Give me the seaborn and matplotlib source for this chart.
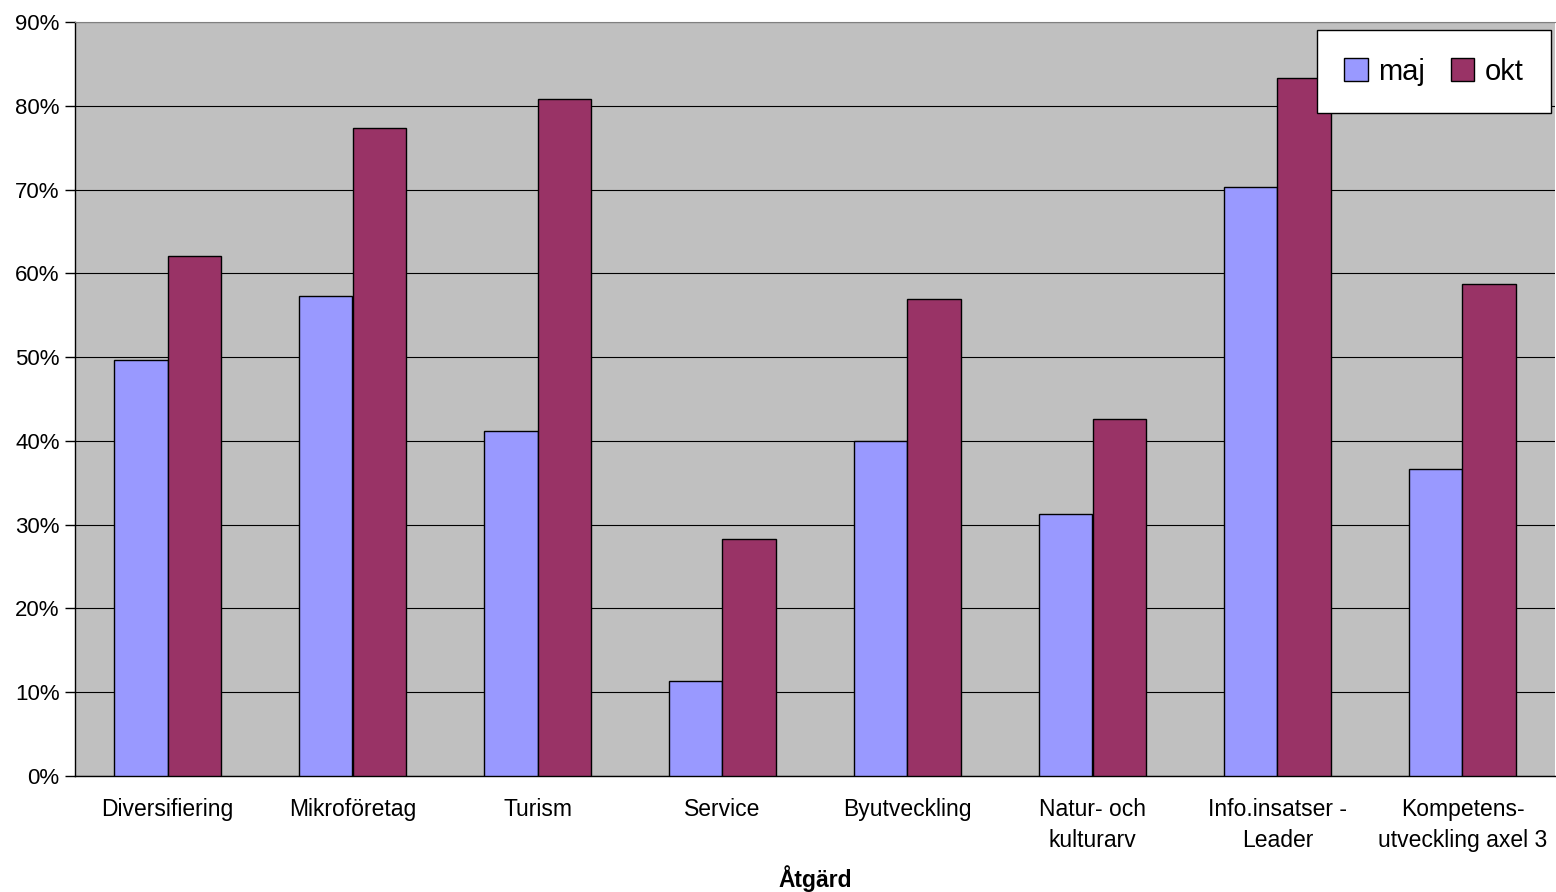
import numpy as np
import pandas as pd
import matplotlib
matplotlib.use("Agg")
import matplotlib.pyplot as plt
import seaborn as sns
from matplotlib.ticker import PercentFormatter, FixedLocator

categories = ["Diversifiering", "Mikroföretag", "Turism", "Service", "Byutveckling",
              "Natur- och\nkulturarv", "Info.insatser -\nLeader", "Kompetens-\nutveckling axel 3"]
maj = [49.6, 57.3, 41.2, 11.3, 40.0, 31.3, 70.3, 36.6]
okt = [62.1, 77.4, 80.8, 28.3, 56.9, 42.6, 83.3, 58.7]

df = pd.DataFrame({
    "Åtgärd": categories * 2,
    "value": maj + okt,
    "period": ["maj"] * len(maj) + ["okt"] * len(okt),
})

sns.set_style("white")
plt.rcParams["font.family"] = ["Liberation Sans", "DejaVu Sans"]
plt.rcParams["text.color"] = "black"
plt.rcParams["xtick.color"] = "black"
plt.rcParams["ytick.color"] = "black"
plt.rcParams["axes.labelcolor"] = "black"

fig = plt.figure(figsize=(15.56, 8.92), dpi=100)
ax = fig.add_axes([75 / 1556, 1 - 776 / 892, (1555 - 75) / 1556, (776 - 22) / 892])
ax.set_facecolor("#C0C0C0")

sns.barplot(data=df, x="Åtgärd", y="value", hue="period",
            palette={"maj": "#9999FF", "okt": "#993366"}, saturation=1,
            width=0.58, gap=0, edgecolor="black", linewidth=1, ax=ax, zorder=3)

ax.set_ylim(0, 90)
ax.set_xlim(-0.5, 7.5)
ax.yaxis.set_major_locator(FixedLocator(np.arange(0, 91, 10)))
ax.yaxis.set_major_formatter(PercentFormatter(decimals=0))
ax.grid(axis="y", color="black", linewidth=0.8, zorder=0)
ax.set_axisbelow(True)

ax.xaxis.set_minor_locator(FixedLocator(np.arange(-0.5, 8, 1)))
ax.tick_params(axis="x", which="major", length=0, labelsize=16.5, pad=16)
ax.tick_params(axis="x", which="minor", length=7, width=1, color="black", direction="out")
ax.tick_params(axis="y", length=7, width=1, color="black", direction="out", labelsize=16, pad=4)
ax.tick_params(bottom=True, left=True)
for t in ax.get_xticklabels():
    t.set_linespacing(1.45)

ax.spines["top"].set_color("#808080")
ax.spines["right"].set_visible(False)
for s in ["left", "bottom"]:
    ax.spines[s].set_color("black")
    ax.spines[s].set_linewidth(1)

ax.set_ylabel("")
ax.set_xlabel("Åtgärd", fontsize=16.5, fontweight="bold", labelpad=9)

ax.legend(title=None, ncol=2, fontsize=21, loc="upper right",
          bbox_to_anchor=(1551 / 1556, 1 - 30 / 892), bbox_transform=fig.transFigure,
          borderaxespad=0, frameon=True, fancybox=False, edgecolor="black",
          framealpha=1, handlelength=0.8, handleheight=0.8, handletextpad=0.35,
          columnspacing=0.9, borderpad=0.95)
ax.get_legend().get_frame().set_linewidth(1)

fig.savefig("out.png", dpi=100)
